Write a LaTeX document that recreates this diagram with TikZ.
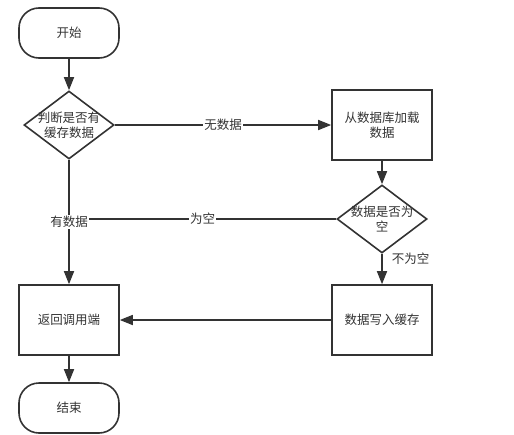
\documentclass[tikz,border=0pt]{standalone}
\usepackage{fontspec}
\setmainfont{Noto Sans CJK SC}
\usetikzlibrary{arrows.meta,shapes.geometric}
\definecolor{ink}{HTML}{333333}

\begin{document}
\begin{tikzpicture}[x=1pt,y=-1pt,>={Triangle[length=13pt,width=10pt]},
    font=\fontsize{12.5}{15}\selectfont, every node/.style={text=ink},
    terminal/.style={draw=ink,line width=1.6pt,rounded corners=20pt,minimum width=100pt,minimum height=50pt,inner sep=0pt},
    process/.style={draw=ink,line width=1.6pt,minimum width=100pt,minimum height=70pt,inner sep=0pt,align=center},
    decision/.style={draw=ink,line width=1.6pt,diamond,minimum width=90pt,minimum height=68pt,inner sep=0pt},
    flow/.style={draw=ink,line width=1.6pt},
    tag/.style={fill=white,inner sep=1pt}]
    \useasboundingbox (0,0) rectangle (514,434);

    \node[terminal] (start) at (69,33) {开始};
    \node[decision, label={[align=center]center:判断是否有\\缓存数据}] (check) at (69,125) {};
    \node[process] (load) at (382,125) {从数据库加载\\数据};
    \node[decision, label={[align=center]center:数据是否为\\空}] (empty) at (382,219) {};
    \node[process] (write) at (382,320) {数据写入缓存};
    \node[process] (return) at (69,320) {返回调用端};
    \node[terminal] (end) at (69,408) {结束};
    \coordinate (join) at (check.south |- empty.west);

    \draw[flow,->] (start) -- (check);
    \draw[flow,->] (check) -- (load) node[midway,tag] {无数据};
    \draw[flow,->] (load) -- (empty);
    \draw[flow,->] (empty) -- (write) node[pos=0.15,right,inner sep=9pt] {不为空};
    \draw[flow] (empty.west) -- (join) node[midway,tag] {为空};
    \draw[flow,->] (check) -- (return) node[midway,tag] {有数据};
    \draw[flow,->] (write) -- (return);
    \draw[flow,->] (return) -- (end);
\end{tikzpicture}
\end{document}
